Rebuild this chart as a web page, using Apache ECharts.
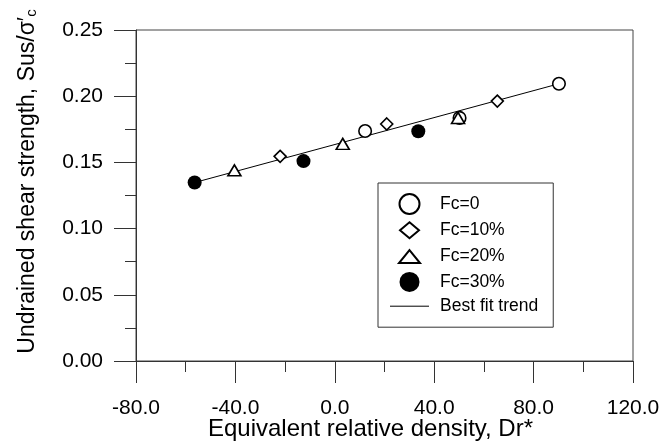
<!DOCTYPE html>
<html>
<head>
<meta charset="utf-8">
<script src="https://cdn.jsdelivr.net/npm/echarts@6/dist/echarts.min.js"></script>
<style>html,body{margin:0;padding:0;background:#fff;}#chart{width:661px;height:446px;}</style>
</head>
<body>
<div id="chart"></div>
<script>
// Data
const fc0X = [12.2, 50.2, 90.2];
const fc0Y = [0.1737, 0.1836, 0.2094];
const fc10X = [-22.0, 20.9, 65.4];
const fc10Y = [0.1546, 0.1790, 0.1963];
const fc20X = [-40.4, 3.2, 49.6];
const fc20Y = [0.1440, 0.1640, 0.1836];
const fc30X = [-56.4, -12.6, 33.6];
const fc30Y = [0.1348, 0.1510, 0.1735];
const trendX = [-56.4, 90.2];
const trendY = [0.1348, 0.2094];
const seriesNames = ['Fc=0', 'Fc=10%', 'Fc=20%', 'Fc=30%', 'Best fit trend'];
const xTicks = { min: -80, max: 120, interval: 40 };
const yTicks = { min: 0, max: 0.25, interval: 0.05 };

const zip = (xs, ys) => xs.map((x, i) => [x, ys[i]]);
const FONT = '"Liberation Sans", Arial, sans-serif';

// legend icon shapes (a 39x20 frame set by the two moveTo points, shape centred inside)
const legendDiamond = 'path://M0,0M39,20M19.5,2L29,10L19.5,18L10,10Z';
const legendTriangle = 'path://M0,0M39,20M19.5,3.5L30,16.5L9,16.5Z';

const chart = echarts.init(document.getElementById('chart'), null, { renderer: 'canvas' });
const axisCommon = {
  axisLine: { show: true, onZero: false, lineStyle: { color: '#333', width: 1 } },
  axisTick: { show: true, inside: false, length: 22, lineStyle: { color: '#333', width: 1 } },
  minorTick: { show: true, splitNumber: 2, length: 11, lineStyle: { color: '#333', width: 1 } },
  splitLine: { show: false },
  minorSplitLine: { show: false }
};
chart.setOption({
  animation: false,
  backgroundColor: '#fff',
  textStyle: { fontFamily: FONT },
  grid: { left: 136, top: 30, width: 497, height: 331, outerBoundsMode: 'none', containLabel: false,
    show: true, borderColor: '#444', borderWidth: 1, backgroundColor: 'transparent' },
  xAxis: Object.assign({
    type: 'value', min: xTicks.min, max: xTicks.max, interval: xTicks.interval,
    name: 'Equivalent relative density, Dr*',
    nameLocation: 'middle', nameGap: 56, nameMoveOverlap: false,
    nameTextStyle: { fontSize: 24, color: '#000', fontFamily: FONT, padding: [0, 28, 0, 0] },
    axisLabel: { fontSize: 21, color: '#000', fontFamily: FONT, margin: 37, formatter: v => v.toFixed(1) }
  }, axisCommon),
  yAxis: Object.assign({
    type: 'value', min: yTicks.min, max: yTicks.max, interval: yTicks.interval,
    name: '{a|Undrained shear strength, Sus/σ′}{b|c}',
    nameLocation: 'middle', nameGap: 97, nameMoveOverlap: false,
    nameTextStyle: {
      fontSize: 23, color: '#000', fontFamily: FONT, padding: [0, 0, 0, 28],
      rich: {
        a: { fontSize: 23, color: '#000', fontFamily: FONT },
        b: { fontSize: 15, color: '#000', fontFamily: FONT, verticalAlign: 'bottom' }
      }
    },
    axisLabel: { fontSize: 21, color: '#000', fontFamily: FONT, margin: 33, formatter: v => v.toFixed(2) }
  }, axisCommon),
  legend: {
    orient: 'vertical', left: 378, top: 183,
    padding: [10, 15, 11, 11],
    borderColor: '#333', borderWidth: 1, backgroundColor: '#fff',
    itemWidth: 39, itemHeight: 20, itemGap: 4.3,
    data: [
      { name: seriesNames[0] },
      { name: seriesNames[1], icon: legendDiamond },
      { name: seriesNames[2], icon: legendTriangle },
      { name: seriesNames[3] },
      { name: seriesNames[4], itemStyle: { opacity: 0 }, lineStyle: { color: '#000', width: 1, opacity: 1 } }
    ],
    textStyle: { fontSize: 17.5, lineHeight: 20, color: '#000', fontFamily: FONT, padding: [0, 0, 0, 6] }
  },
  series: [
    { name: seriesNames[0], type: 'scatter', symbol: 'circle', symbolSize: 12.5, z: 5,
      itemStyle: { color: '#fff', borderColor: '#000', borderWidth: 1.6, opacity: 1 },
      data: zip(fc0X, fc0Y) },
    { name: seriesNames[1], type: 'scatter', symbol: 'diamond', symbolSize: 12, z: 5,
      itemStyle: { color: '#fff', borderColor: '#000', borderWidth: 1.6, opacity: 1 },
      data: zip(fc10X, fc10Y) },
    { name: seriesNames[2], type: 'scatter', symbol: 'triangle', symbolSize: [13, 11], z: 5,
      itemStyle: { color: '#fff', borderColor: '#000', borderWidth: 1.6, opacity: 1 },
      data: zip(fc20X, fc20Y) },
    { name: seriesNames[3], type: 'scatter', symbol: 'circle', symbolSize: 14, z: 5,
      itemStyle: { color: '#000', borderColor: '#000', borderWidth: 0, opacity: 1 },
      data: zip(fc30X, fc30Y) },
    { name: seriesNames[4], type: 'line', symbol: 'none', showSymbol: false, z: 3,
      lineStyle: { color: '#000', width: 1 }, itemStyle: { color: '#000' },
      data: zip(trendX, trendY) }
  ]
});
</script>
</body>
</html>
